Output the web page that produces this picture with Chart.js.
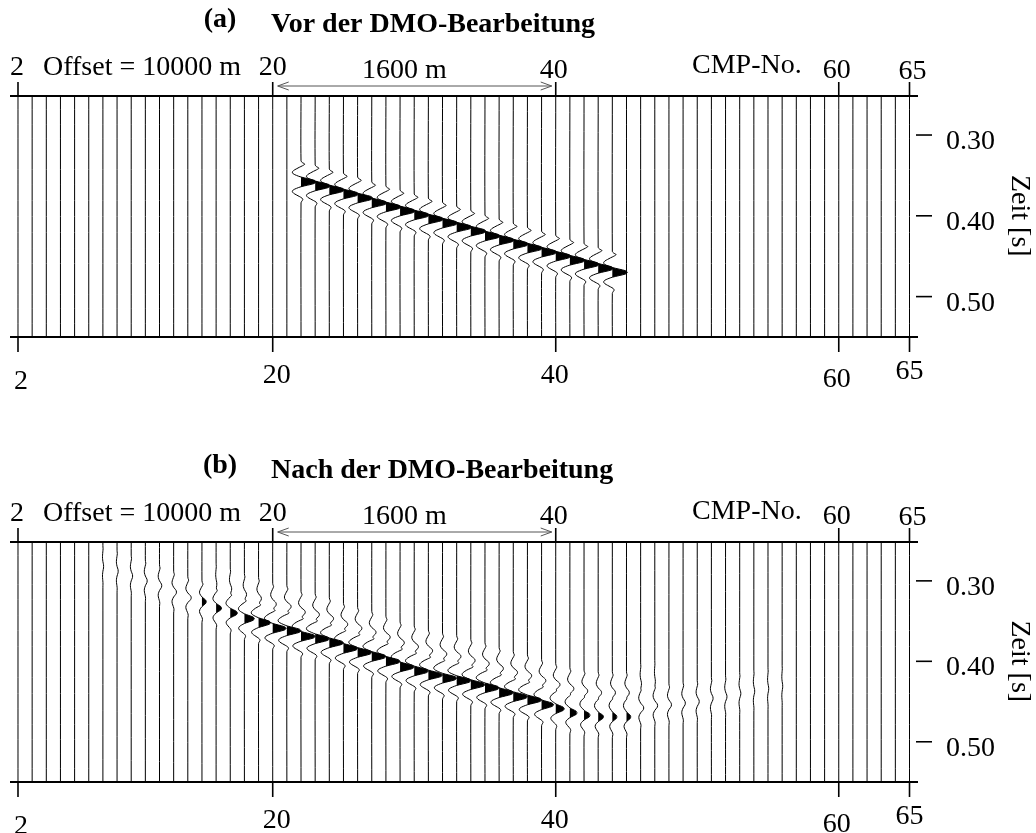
<!DOCTYPE html>
<html>
<head>
<meta charset="utf-8">
<title>DMO</title>
<script src="https://cdn.jsdelivr.net/npm/chart.js@4.4.1/dist/chart.umd.min.js"></script>
<style>
  html, body { margin: 0; padding: 0; background: #fff; overflow: hidden; }
  #wrap { position: relative; width: 1036px; height: 833px; }
  canvas { position: absolute; left: 0; }
  #chartA { top: 0; }
  #chartB { top: 445px; }
</style>
</head>
<body>
<div id="wrap">
  <canvas id="chartA" width="1036" height="440"></canvas>
  <canvas id="chartB" width="1036" height="388"></canvas>
</div>
<script>
// one wiggle trace per CMP
const cmpNumbers = [2, 3, 4, 5, 6, 7, 8, 9, 10, 11, 12, 13, 14, 15, 16, 17, 18, 19, 20, 21,
  22, 23, 24, 25, 26, 27, 28, 29, 30, 31, 32, 33, 34, 35, 36, 37, 38, 39, 40, 41, 42, 43,
  44, 45, 46, 47, 48, 49, 50, 51, 52, 53, 54, 55, 56, 57, 58, 59, 60, 61, 62, 63, 64, 65];

const cmpTicks = [2, 20, 40, 60, 65];
const timeTicks = [0.30, 0.40, 0.50];
const timeTickLabels = ['0.30', '0.40', '0.50'];

// wavelet samples, 2 ms apart, -26 ms .. +26 ms (peak at index 13)
const waveletStep = 0.002;
const wavelet = [0, 0.08, 0.25, 0.10, -0.12, -0.32, -0.50, -0.58, -0.52, -0.30,
  0, 0.45, 0.88, 1.00, 0.88, 0.45, 0,
  -0.30, -0.52, -0.58, -0.50, -0.32, -0.12, 0.06, 0.12, 0.05, 0];

// (a) before DMO: reflection time [s] and amplitude [CMP widths]
const eventCmpA = [22, 23, 24, 25, 26, 27, 28, 29, 30, 31, 32, 33, 34, 35, 36, 37, 38, 39, 40, 41, 42, 43, 44];
const eventTimeA = [0.358, 0.363, 0.368, 0.373, 0.378, 0.384, 0.389, 0.394, 0.399, 0.404, 0.409, 0.414,
  0.419, 0.425, 0.430, 0.435, 0.440, 0.445, 0.450, 0.455, 0.460, 0.465, 0.470];
const eventAmpA = [1.06, 1.06, 1.06, 1.06, 1.06, 1.06, 1.06, 1.06, 1.06, 1.06, 1.06, 1.06,
  1.06, 1.06, 1.06, 1.06, 1.06, 1.06, 1.06, 1.06, 1.06, 1.06, 1.06];
const smearAmpA = [0, 0, 0, 0, 0, 0, 0, 0, 0, 0, 0, 0, 0, 0, 0, 0, 0, 0, 0, 0, 0, 0, 0];

// (b) after DMO
const eventCmpB = [8, 9, 10, 11, 12, 13, 14, 15, 16, 17, 18, 19, 20, 21, 22, 23, 24, 25, 26, 27, 28,
  29, 30, 31, 32, 33, 34, 35, 36, 37, 38, 39, 40, 41, 42, 43, 44, 45, 46, 47, 48, 49, 50, 51, 52,
  53, 54, 55, 56];
const eventTimeB = [0.282, 0.288, 0.294, 0.300, 0.306, 0.314, 0.321, 0.326, 0.334, 0.340, 0.347,
  0.352, 0.359, 0.362, 0.369, 0.372, 0.377, 0.384, 0.389, 0.394, 0.400, 0.407, 0.412, 0.417,
  0.421, 0.424, 0.429, 0.433, 0.439, 0.444, 0.448, 0.454, 0.459, 0.464, 0.467, 0.469, 0.469,
  0.469, 0.458, 0.455, 0.454, 0.452, 0.450, 0.446, 0.444, 0.440, 0.437, 0.434, 0.431];
const eventAmpB = [0.05, 0.08, 0.10, 0.13, 0.16, 0.20, 0.24, 0.30, 0.38, 0.50, 0.70, 0.85, 0.95,
  1.00, 1.00, 1.00, 1.00, 1.00, 1.00, 1.00, 1.00, 1.00, 1.00, 1.00, 1.00, 1.00, 1.00, 1.00,
  1.00, 1.00, 1.00, 0.85, 0.60, 0.50, 0.42, 0.37, 0.32, 0.30, 0.22, 0.20, 0.18, 0.16, 0.14,
  0.12, 0.10, 0.08, 0.06, 0.05, 0.04];
const smearAmpB = [0, 0, 0, 0, 0, 0, 0, 0, 0.05, 0.10, 0.15, 0.20, 0.25, 0.30, 0.30, 0.30, 0.30,
  0.30, 0.30, 0.30, 0.30, 0.30, 0.30, 0.30, 0.30, 0.30, 0.30, 0.30, 0.30, 0.30, 0.30, 0.30,
  0.30, 0.28, 0.26, 0.24, 0.22, 0.20, 0.06, 0.04, 0, 0, 0, 0, 0, 0, 0, 0, 0];

const panelLabels = ['(a)', '(b)'];
const panelTitles = ['Vor der DMO-Bearbeitung', 'Nach der DMO-Bearbeitung'];
const offsetText = 'Offset = 10000 m';
const spanText = '1600 m';
const xAxisTitle = 'CMP-No.';
const yAxisTitle = 'Zeit [s]';

const tTop = 0.2517, tBottom = 0.55;
const smearLag = 15;      // samples (30 ms) ahead of the main arrival
const fillMinAmp = 0.27;  // smaller wavelets are drawn without black fill
const FONT = '"Liberation Serif", "Times New Roman", Times, serif';

function waveAt(i) {
  const j = i + 13;
  return (j >= 0 && j < wavelet.length) ? wavelet[j] : 0;
}

function buildDatasets(cmps, times, amps, smears) {
  const lines = [];
  const fills = [];
  cmpNumbers.forEach(cmp => {
    const idx = cmps.indexOf(cmp);
    const pts = [{x: cmp, y: tTop}];
    if (idx >= 0) {
      const T = times[idx], a = amps[idx], a2 = smears[idx];
      const kStart = a2 > 0 ? -(13 + smearLag) : -13;
      for (let k = kStart; k <= 13; k++) {
        const v = a * waveAt(k) + a2 * waveAt(k + smearLag);
        pts.push({x: cmp + v, y: T + k * waveletStep});
      }
      if (a >= fillMinAmp) {
        // positive main lobe, variable-area fill
        const poly = [];
        for (let k = -3; k <= 3; k++) {
          poly.push({x: cmp + a * waveAt(k), y: T + k * waveletStep});
        }
        fills.push({
          data: poly, showLine: true, borderWidth: 0, borderColor: 'rgba(0,0,0,0)',
          backgroundColor: '#000', fill: 'shape', pointRadius: 0, tension: 0
        });
      }
    }
    pts.push({x: cmp, y: tBottom});
    lines.push({
      data: pts, showLine: true, borderColor: '#000', borderWidth: 1,
      pointRadius: 0, fill: false, tension: 0.3
    });
  });
  return fills.concat(lines);
}

const framePlugin = {
  id: 'frame',
  afterDraw(chart, args, opts) {
    const {ctx, chartArea: area, scales: {x, y}} = chart;
    const seg = (x1, y1, x2, y2) => { ctx.beginPath(); ctx.moveTo(x1, y1); ctx.lineTo(x2, y2); ctx.stroke(); };
    ctx.save();
    ctx.strokeStyle = '#000';
    ctx.fillStyle = '#000';

    ctx.lineWidth = 2;
    seg(area.left, area.top, area.right, area.top);
    seg(area.left, area.bottom, area.right, area.bottom);

    // CMP ticks and numbers, top and bottom
    const topShift = [-1, 0, -2, -2, 3], topRise = [21, 21, 18, 18, 17];
    const botShift = [3, 4, -1, -2, 0], botDrop = [52, 46, 46, 50, 42];
    ctx.lineWidth = 1.6;
    ctx.font = '28px ' + FONT;
    ctx.textAlign = 'center';
    ctx.textBaseline = 'alphabetic';
    cmpTicks.forEach((c, i) => {
      const px = x.getPixelForValue(c);
      seg(px, area.top, px, area.top - 14);
      seg(px, area.bottom, px, area.bottom + 15);
      ctx.fillText(String(c), px + topShift[i], area.top - topRise[i]);
      ctx.fillText(String(c), px + botShift[i], area.bottom + botDrop[i]);
    });

    // time ticks on the right
    ctx.textAlign = 'left';
    timeTicks.forEach((t, i) => {
      const py = y.getPixelForValue(t);
      seg(area.right - 2, py, area.right + 14, py);
      ctx.fillText(timeTickLabels[i], area.right + 28, py + 14);
    });

    ctx.save();
    ctx.translate(1019, y.getPixelForValue(0.40));
    ctx.rotate(Math.PI / 2);
    ctx.textAlign = 'center';
    ctx.textBaseline = 'middle';
    ctx.fillText(yAxisTitle, 0, 0);
    ctx.restore();

    // annotations above the section
    ctx.textAlign = 'left';
    ctx.fillText(offsetText, 43, area.top - 21);
    ctx.fillText(spanText, 362, area.top - 18);
    ctx.fillText(xAxisTitle, 692, area.top - 23);

    const ay = area.top - 10;
    const ax1 = x.getPixelForValue(20) + 5, ax2 = x.getPixelForValue(40) - 4;
    ctx.strokeStyle = '#555';
    ctx.lineWidth = 1;
    seg(ax1, ay, ax2, ay);
    seg(ax1, ay, ax1 + 11, ay - 4); seg(ax1, ay, ax1 + 11, ay + 4);
    seg(ax2, ay, ax2 - 11, ay - 4); seg(ax2, ay, ax2 - 11, ay + 4);

    // panel title
    ctx.fillStyle = '#000';
    ctx.font = 'bold 28px ' + FONT;
    ctx.textAlign = 'center';
    ctx.fillText(opts.label, 220, area.top - 69);
    ctx.textAlign = 'left';
    ctx.fillText(opts.title, 271, area.top - 64);
    ctx.restore();
  }
};

function makeChart(id, datasets, pad, label, title) {
  return new Chart(document.getElementById(id), {
    type: 'scatter',
    data: { datasets: datasets },
    options: {
      responsive: false,
      animation: false,
      events: [],
      layout: { padding: pad },
      plugins: {
        legend: { display: false },
        tooltip: { enabled: false },
        frame: { label: label, title: title }
      },
      scales: {
        x: { type: 'linear', min: 1.435, max: 65.6, display: false },
        y: { type: 'linear', min: tTop, max: tBottom, reverse: true, display: false }
      }
    },
    plugins: [framePlugin]
  });
}

makeChart('chartA', buildDatasets(eventCmpA, eventTimeA, eventAmpA, smearAmpA),
  {left: 10, right: 118, top: 96, bottom: 103}, panelLabels[0], panelTitles[0]);
makeChart('chartB', buildDatasets(eventCmpB, eventTimeB, eventAmpB, smearAmpB),
  {left: 10, right: 118, top: 97, bottom: 51}, panelLabels[1], panelTitles[1]);
</script>
</body>
</html>
